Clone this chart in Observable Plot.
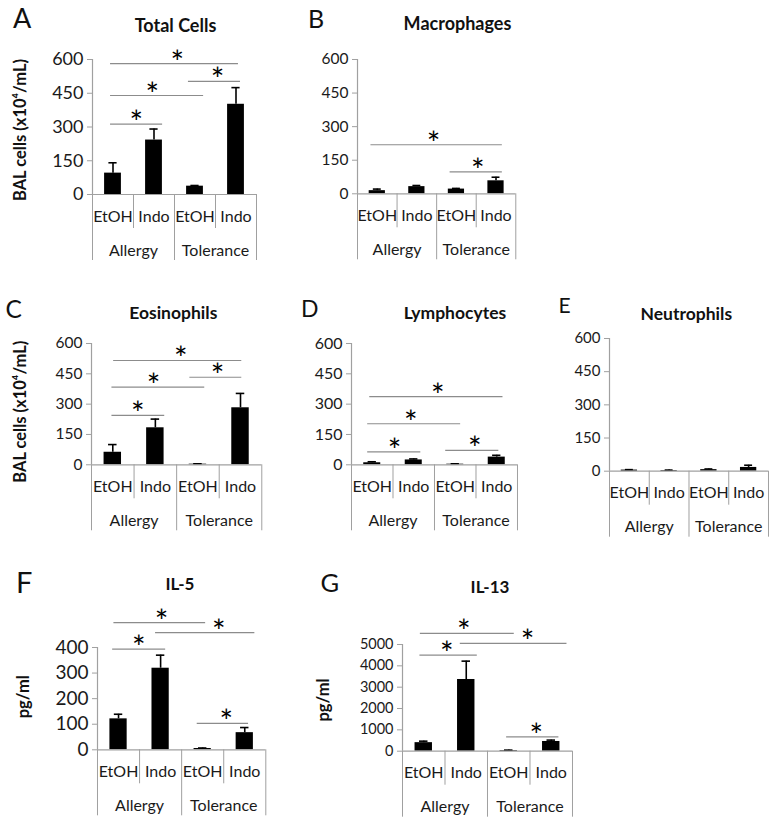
<!DOCTYPE html>
<html><head><meta charset="utf-8">
<script src="https://cdn.jsdelivr.net/npm/d3@7"></script>
<script src="https://cdn.jsdelivr.net/npm/@observablehq/plot@0.6"></script>
<style>
html,body{margin:0;padding:0;background:#fff;}
#fig{position:relative;width:776px;height:826px;overflow:hidden;background:#fff;}
#fig svg{position:absolute;}
</style></head><body><div id="fig"></div>
<script>
// ---------- data ----------
const treatments = ["EtOH", "Indo", "EtOH", "Indo"];
const groups = ["Allergy", "Tolerance"];
const cellTicks = [0, 150, 300, 450, 600];
const il5Ticks = [0, 100, 200, 300, 400];
const il13Ticks = [0, 1000, 2000, 3000, 4000, 5000];

const totalCells = [95, 242, 37, 401];
const totalCellsErr = [141, 291, 40, 475];
const macrophages = [14, 32, 21, 58];
const macrophagesErr = [21, 37, 24, 74];
const eosinophils = [62, 183, 3, 282];
const eosinophilsErr = [100, 226, 5, 353];
const lymphocytes = [10, 24, 3, 38];
const lymphocytesErr = [15, 29, 5, 47];
const neutrophils = [5, 3, 7, 17];
const neutrophilsErr = [7, 5, 10, 27];
const il5 = [121, 319, 5, 67];
const il5Err = [139, 370, 7, 87];
const il13 = [400, 3360, 30, 455];
const il13Err = [470, 4220, 50, 520];

// significance brackets: from, to (category units), height (data units), asterisk position
const totalCellsSig = [
  {x1: 0.44, x2: 1.71, y: 313, ax: 1.07},
  {x1: 0.44, x2: 2.71, y: 440, ax: 1.46},
  {x1: 2.34, x2: 3.61, y: 503, ax: 3.05},
  {x1: 0.44, x2: 3.56, y: 582, ax: 2.07}
];
const macrophagesSig = [
  {x1: 0.34, x2: 3.66, y: 219, ax: 1.92},
  {x1: 2.34, x2: 3.66, y: 98, ax: 3.04}
];
const eosinophilsSig = [
  {x1: 0.48, x2: 1.72, y: 244, ax: 1.09},
  {x1: 0.48, x2: 2.66, y: 384, ax: 1.46},
  {x1: 2.31, x2: 3.53, y: 433, ax: 2.96},
  {x1: 0.52, x2: 3.53, y: 516, ax: 2.10}
];
const lymphocytesSig = [
  {x1: 0.39, x2: 1.67, y: 64, ax: 1.04},
  {x1: 0.39, x2: 2.63, y: 203, ax: 1.43},
  {x1: 2.27, x2: 3.55, y: 71, ax: 2.97},
  {x1: 0.44, x2: 3.65, y: 337, ax: 2.08}
];
const neutrophilsSig = [];
const il5Sig = [
  {x1: 0.36, x2: 1.62, y: 394, ax: 0.98},
  {x1: 0.39, x2: 2.57, y: 497, ax: 1.52},
  {x1: 1.38, x2: 3.74, y: 458, ax: 2.88},
  {x1: 2.37, x2: 3.59, y: 103, ax: 3.06}
];
const il13Sig = [
  {x1: 0.41, x2: 1.76, y: 4500, ax: 1.04},
  {x1: 0.42, x2: 2.63, y: 5520, ax: 1.44},
  {x1: 1.36, x2: 3.87, y: 5050, ax: 2.94},
  {x1: 2.45, x2: 3.68, y: 670, ax: 3.15}
];

// ---------- layout ----------
const FONT = "Lato, 'Open Sans', sans-serif";
const AXIS = "#a0a0a0";
const CAT_FS = 16;
const panels = [
  {values: totalCells, errors: totalCellsErr, sig: totalCellsSig, ticks: cellTicks, x0: 92, x4: 256, top: 59, base: 194, tfs: 18},
  {values: macrophages, errors: macrophagesErr, sig: macrophagesSig, ticks: cellTicks, x0: 356.7, x4: 515, top: 59, base: 193.3, tfs: 15.5},
  {values: eosinophils, errors: eosinophilsErr, sig: eosinophilsSig, ticks: cellTicks, x0: 90.7, x4: 261, top: 343, base: 464.3, tfs: 15.5},
  {values: lymphocytes, errors: lymphocytesErr, sig: lymphocytesSig, ticks: cellTicks, x0: 350.7, x4: 516.7, top: 343, base: 464.3, tfs: 16},
  {values: neutrophils, errors: neutrophilsErr, sig: neutrophilsSig, ticks: cellTicks, x0: 608.5, x4: 767.5, top: 338.3, base: 471, tfs: 15},
  {values: il5, errors: il5Err, sig: il5Sig, ticks: il5Ticks, x0: 96.7, x4: 265, top: 646.7, base: 749, tfs: 19},
  {values: il13, errors: il13Err, sig: il13Sig, ticks: il13Ticks, x0: 401.7, x4: 571.7, top: 644.3, base: 751, tfs: 14.5}
];

const fig = document.getElementById("fig");
const mL = 64, mR = 8, mT = 55, mB = 72;

for (const p of panels) {
  const rows = p.values.map((v, i) => ({i, v, e: p.errors[i], t: treatments[i]}));
  const ymax = p.ticks[p.ticks.length - 1];
  const chart = Plot.plot({
    width: (p.x4 - p.x0) + mL + mR,
    height: (p.base - p.top) + mT + mB,
    marginLeft: mL, marginRight: mR, marginTop: mT, marginBottom: mB,
    x: {domain: [0, 4]},
    y: {domain: [0, ymax]},
    style: {fontFamily: FONT, fontSize: p.tfs + "px", color: "#1a1a1a", background: "transparent", overflow: "visible"},
    marks: [
      Plot.ruleX([0], {stroke: AXIS, strokeWidth: 1.2}),
      Plot.axisY(p.ticks, {tickSize: 5, tickPadding: 4, stroke: AXIS, fill: "#1a1a1a", label: null, fontSize: p.tfs, tickFormat: d => String(d)}),
      Plot.axisX([1, 3], {tickSize: 34, tickFormat: () => "", stroke: AXIS, label: null}),
      Plot.axisX([0, 2, 4], {tickSize: 66, tickFormat: () => "", stroke: AXIS, label: null}),
      Plot.ruleX(rows, {x: d => d.i + 0.5, y1: "v", y2: "e", stroke: "#000", strokeWidth: 1.6}),
      Plot.ruleY(rows, {y: "e", x1: d => d.i + 0.4, x2: d => d.i + 0.6, stroke: "#000", strokeWidth: 1.6}),
      Plot.rectY(rows, {x1: d => d.i + 0.295, x2: d => d.i + 0.705, y1: 0, y2: "v", fill: "#000"}),
      Plot.ruleY([0], {stroke: AXIS, strokeWidth: 1.2}),
      Plot.text(rows, {x: d => d.i + 0.5, y: 0, dy: 22, text: "t", fill: "#1a1a1a", fontSize: CAT_FS}),
      Plot.text(groups, {x: (d, i) => i * 2 + 1, y: 0, dy: 56, text: d => d, fill: "#1a1a1a", fontSize: CAT_FS}),
      Plot.ruleY(p.sig, {y: "y", x1: "x1", x2: "x2", stroke: "#8c8c8c", strokeWidth: 1.2}),
      Plot.text(p.sig, {x: "ax", y: "y", text: () => "*", fontSize: 32, lineAnchor: "bottom", dy: 10, fill: "#000"})
    ]
  });
  chart.style.left = (p.x0 - mL) + "px";
  chart.style.top = (p.top - mT) + "px";
  fig.appendChild(chart);
}

// ---------- panel letters, titles, y labels ----------
const letters = [
  {t: "A", x: 13, y: 28.3, s: 27}, {t: "B", x: 308, y: 28.3, s: 25},
  {t: "C", x: 5.5, y: 318.3, s: 24.5}, {t: "D", x: 301, y: 317.3, s: 23},
  {t: "E", x: 558.5, y: 313.3, s: 21}, {t: "F", x: 16, y: 593, s: 29},
  {t: "G", x: 320.5, y: 592, s: 25.5}
];
const titles = [
  {t: "Total Cells", x: 175.5, y: 31.7, s: 18}, {t: "Macrophages", x: 457.5, y: 30, s: 18},
  {t: "Eosinophils", x: 173.3, y: 319.3, s: 17.5}, {t: "Lymphocytes", x: 455, y: 318.5, s: 17.5},
  {t: "Neutrophils", x: 686.3, y: 320, s: 17.5}, {t: "IL-5", x: 180, y: 590, s: 17},
  {t: "IL-13", x: 490, y: 593.3, s: 17}
];
const ylabels = [
  {t: "BAL cells (x10⁴/mL)", x: 26, y: 130, s: 16.5},
  {t: "BAL cells (x10⁴/mL)", x: 26, y: 411.7, s: 16.5},
  {t: "pg/ml", x: 29, y: 696.7, s: 16.5},
  {t: "pg/ml", x: 329, y: 700, s: 16.5}
];
const overlay = d3.select(fig).append("svg")
  .attr("width", 776).attr("height", 826)
  .style("left", "0px").style("top", "0px").style("pointer-events", "none")
  .style("font-family", FONT);
overlay.selectAll("text.letter").data(letters).join("text")
  .attr("x", d => d.x).attr("y", d => d.y).attr("font-size", d => d.s)
  .attr("fill", "#111").text(d => d.t);
overlay.selectAll("text.title").data(titles).join("text")
  .attr("x", d => d.x).attr("y", d => d.y).attr("font-size", d => d.s)
  .attr("font-weight", "bold").attr("text-anchor", "middle").attr("fill", "#111").text(d => d.t);
overlay.selectAll("text.ylab").data(ylabels).join("text")
  .attr("transform", d => `translate(${d.x},${d.y}) rotate(-90)`)
  .attr("font-size", d => d.s).attr("font-weight", "bold").attr("text-anchor", "middle")
  .attr("fill", "#111").text(d => d.t);
</script>
</body></html>
